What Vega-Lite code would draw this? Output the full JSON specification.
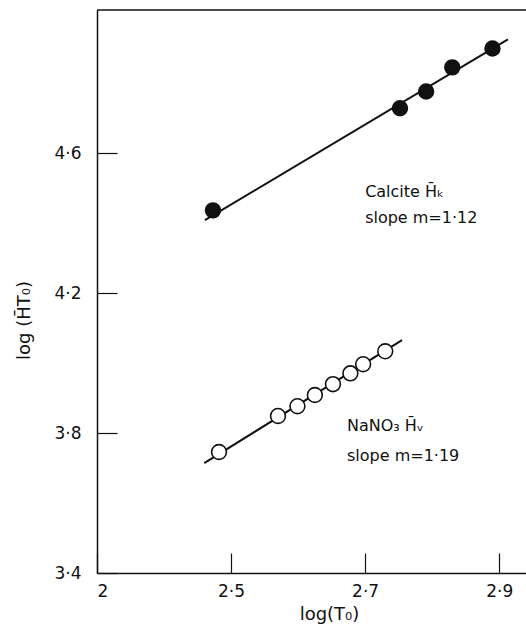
{
  "$schema": "https://vega.github.io/schema/vega-lite/v6.json",
  "autosize": "none",
  "width": 429,
  "height": 563,
  "padding": {"left": 97, "top": 10, "right": 0, "bottom": 66},
  "background": "white",
  "config": {
    "view": {"stroke": null},
    "font": "DejaVu Sans",
    "axis": {"grid": false, "domainColor": "#111", "tickColor": "#111", "labelColor": "#111", "titleColor": "#111", "labelFont": "DejaVu Sans", "titleFont": "DejaVu Sans", "labelFontSize": 17, "titleFontSize": 17, "titleFontWeight": "normal", "domainWidth": 1.5, "tickWidth": 1.2}
  },
  "datasets": {
    "pts": [
      {"series": "Calcite", "x": 2.473, "y": 4.437},
      {"series": "Calcite", "x": 2.752, "y": 4.729},
      {"series": "Calcite", "x": 2.791, "y": 4.777},
      {"series": "Calcite", "x": 2.830, "y": 4.846},
      {"series": "Calcite", "x": 2.890, "y": 4.900},
      {"series": "NaNO3", "x": 2.482, "y": 3.746},
      {"series": "NaNO3", "x": 2.570, "y": 3.849},
      {"series": "NaNO3", "x": 2.599, "y": 3.877},
      {"series": "NaNO3", "x": 2.625, "y": 3.909},
      {"series": "NaNO3", "x": 2.652, "y": 3.940},
      {"series": "NaNO3", "x": 2.678, "y": 3.971},
      {"series": "NaNO3", "x": 2.697, "y": 3.997},
      {"series": "NaNO3", "x": 2.730, "y": 4.034}
    ],
    "fits": [
      {"series": "Calcite", "x": 2.461, "y": 4.409},
      {"series": "Calcite", "x": 2.913, "y": 4.926},
      {"series": "NaNO3", "x": 2.460, "y": 3.714},
      {"series": "NaNO3", "x": 2.755, "y": 4.066}
    ],
    "labels": [
      {"x": 2.70, "y": 4.49, "text": "Calcite H̄ₖ"},
      {"x": 2.70, "y": 4.414, "text": "slope  m=1·12"},
      {"x": 2.673, "y": 3.82, "text": "NaNO₃ H̄ᵥ"},
      {"x": 2.673, "y": 3.734, "text": "slope  m=1·19"}
    ],
    "top": [{"y": 5.01}]
  },
  "layer": [
    {
      "data": {"name": "fits"},
      "mark": {"type": "line", "color": "#111", "strokeWidth": 2},
      "encoding": {
        "x": {"field": "x", "type": "quantitative", "scale": {"domain": [2.3, 2.94], "nice": false, "zero": false},
          "axis": {"title": "log(T₀)", "values": [2.3, 2.5, 2.7, 2.9], "tickSize": -20, "labelPadding": 30, "titlePadding": 6, "titleX": 232, "titleFontSize": 18,
            "labelAlign": {"expr": "datum.value < 2.35 ? 'left' : 'center'"},
            "labelExpr": "datum.value < 2.35 ? '2' : replace(format(datum.value, '.1f'), '.', '·')"}},
        "y": {"field": "y", "type": "quantitative", "scale": {"domain": [3.4, 5.01], "nice": false, "zero": false},
          "axis": {"title": "log (H̄T₀)", "values": [3.4, 3.8, 4.2, 4.6], "tickSize": -20, "labelPadding": 36, "titlePadding": 20, "titleY": 310, "titleFontSize": 18,
            "labelExpr": "replace(format(datum.value, '.1f'), '.', '·')"}},
        "detail": {"field": "series"}
      }
    },
    {
      "data": {"name": "pts"},
      "mark": {"type": "point", "shape": "circle", "size": 220, "strokeWidth": 1.6, "opacity": 1},
      "encoding": {
        "x": {"field": "x", "type": "quantitative"},
        "y": {"field": "y", "type": "quantitative"},
        "fill": {"field": "series", "type": "nominal", "scale": {"domain": ["Calcite", "NaNO3"], "range": ["#111", "white"]}, "legend": null},
        "stroke": {"value": "#111"}
      }
    },
    {
      "data": {"name": "labels"},
      "mark": {"type": "text", "align": "left", "baseline": "middle", "fontSize": 16, "color": "#111", "font": "DejaVu Sans"},
      "encoding": {
        "x": {"field": "x", "type": "quantitative"},
        "y": {"field": "y", "type": "quantitative"},
        "text": {"field": "text"}
      }
    },
    {
      "data": {"name": "top"},
      "mark": {"type": "rule", "color": "#111", "strokeWidth": 1.5},
      "encoding": {"y": {"field": "y", "type": "quantitative"}}
    }
  ]
}
